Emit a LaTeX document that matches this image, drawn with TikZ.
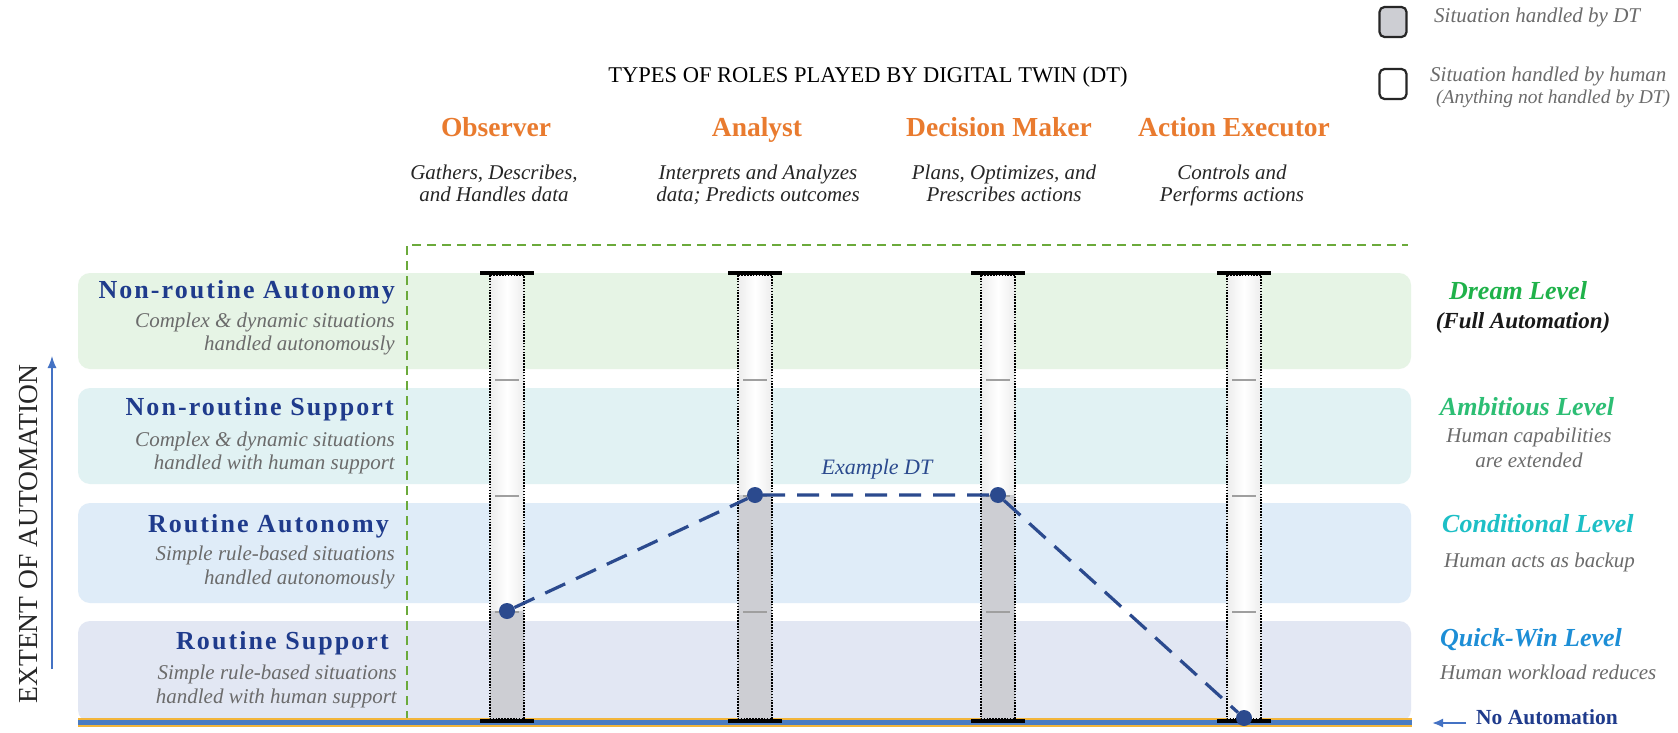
\documentclass[tikz,border=0pt]{standalone}
\usepackage{fontspec}
\setmainfont{Liberation Serif}
\newfontfamily\hdfont{Liberation Serif}[LetterSpace=8]
\usetikzlibrary{arrows.meta}
\definecolor{orangeH}{HTML}{E97B2F}
\definecolor{navy}{HTML}{1F3B8C}
\definecolor{subgray}{HTML}{6B6B6B}
\definecolor{bandA}{HTML}{E6F4E5}
\definecolor{bandB}{HTML}{E1F2F3}
\definecolor{bandC}{HTML}{DFECF8}
\definecolor{bandD}{HTML}{E2E7F3}
\definecolor{dreamG}{HTML}{1FB24A}
\definecolor{ambG}{HTML}{2DBE74}
\definecolor{condC}{HTML}{1DBFC6}
\definecolor{quickB}{HTML}{1D8ED6}
\definecolor{greenD}{HTML}{6BAA3B}
\definecolor{lineB}{HTML}{4A7CC2}
\definecolor{lineY}{HTML}{F2B53A}
\definecolor{dtgray}{HTML}{CDCED3}
\definecolor{exB}{HTML}{2B4A8E}
\definecolor{arrB}{HTML}{4472C4}
\tikzset{
  txt/.style={inner sep=0pt, anchor=mid},
  hdr/.style={txt, font=\bfseries\fontsize{27.5}{30}\selectfont, text=orangeH},
  desc/.style={txt, font=\itshape\fontsize{21}{24}\selectfont, text=black!85},
  lvlhd/.style={txt, anchor=mid east, font=\hdfont\bfseries\fontsize{26}{28}\selectfont, text=navy},
  lvlsub/.style={txt, anchor=mid east, font=\itshape\fontsize{21}{24}\selectfont, text=subgray},
  rlvl/.style={txt, font=\bfseries\itshape\fontsize{26}{30}\selectfont},
  rsub/.style={txt, font=\itshape\fontsize{21}{24}\selectfont, text=subgray},
  band/.style={rounded corners=12pt},
  dotedge/.style={black, line width=1.8pt, dash pattern=on 1.6pt off 1.3pt},
  capline/.style={black, line width=3.5pt},
  tickline/.style={gray!75, line width=1.3pt},
  dtdot/.style={circle, fill=exB, inner sep=0pt, minimum size=16pt},
  exline/.style={exB, line width=3.2pt, dash pattern=on 22pt off 12pt},
  legsq/.style={draw=black!85, line width=2.2pt, rounded corners=5pt, minimum width=27pt, minimum height=30pt, inner sep=0pt},
  legtxt/.style={txt, anchor=mid west, font=\itshape\fontsize{21}{24}\selectfont, text=subgray}
}
\newcommand\dtcolumn[2]{%
  \shade[left color=black!7, right color=black!7, middle color=white] (#1-17,275) rectangle (#1+17,719);
  \fill[dtgray] (#1-17,#2) rectangle (#1+17,719);
  \foreach \t in {380,496,612} \draw[tickline] (#1-12,\t) -- (#1+12,\t);
  \draw[dotedge] (#1-17,275) rectangle (#1+17,719);
  \draw[capline] (#1-27,273) -- (#1+27,273);
  \draw[capline] (#1-27,721) -- (#1+27,721);
}
\begin{document}
\begin{tikzpicture}[x=1pt, y=-1pt]
\useasboundingbox (0,0) rectangle (1678,733);
\fill[white] (0,0) rectangle (1678,733);

% legend
\node[legsq, fill=dtgray] (lg1) at (1393,22) {};
\node[legsq, fill=white] (lg2) at (1393,84) {};
\node[legtxt] (lt1) at (1434,20) {Situation handled by DT};
\node[legtxt] (lt2) at (1430,79) {Situation handled by human};
\node[legtxt, font=\itshape\fontsize{19.5}{22}\selectfont] (lt3) at (1436,101) {(Anything not handled by DT)};

% title
\node[txt, font=\fontsize{22.5}{26}\selectfont] (title) at (868,80) {TYPES OF ROLES PLAYED BY DIGITAL TWIN (DT)};

% column headers
\node[hdr] (h1) at (496,134) {Observer};
\node[hdr] (h2) at (757,134) {Analyst};
\node[hdr] (h3) at (999,134) {Decision Maker};
\node[hdr] (h4) at (1234,134) {Action Executor};
\node[desc] (s1a) at (494,177) {Gathers, Describes,};
\node[desc] (s1b) at (494,199) {and Handles data};
\node[desc] (s2a) at (758,177) {Interprets and Analyzes};
\node[desc] (s2b) at (758,199) {data; Predicts outcomes};
\node[desc] (s3a) at (1004,177) {Plans, Optimizes, and};
\node[desc] (s3b) at (1004,199) {Prescribes actions};
\node[desc] (s4a) at (1232,177) {Controls and};
\node[desc] (s4b) at (1232,199) {Performs actions};

% bands
\fill[band, bandA] (78,273) rectangle (1411,369);
\fill[band, bandB] (78,388) rectangle (1411,484);
\fill[band, bandC] (78,503) rectangle (1411,603);
\fill[band, bandD] (78,621) rectangle (1411,722);

% green dashed frame
\draw[greenD, line width=1.8pt, dash pattern=on 9pt off 6pt] (407,720) -- (407,245) -- (1408,245);

% bottom line
\draw[lineY, line width=9pt] (78,722) -- (1412,722);
\draw[lineB, line width=5pt] (78,722) -- (1412,722);

% columns
\dtcolumn{507}{611}
\dtcolumn{755}{495}
\dtcolumn{998}{495}
\dtcolumn{1244}{719}

% example DT path
\node[dtdot] (d1) at (507,611) {};
\node[dtdot] (d2) at (755,495) {};
\node[dtdot] (d3) at (998,495) {};
\node[dtdot] (d4) at (1244,718) {};
\draw[exline] (d1) -- (d2) -- (d3) -- (d4);
\node[txt, font=\itshape\fontsize{22}{26}\selectfont, text=exB] (ex) at (877,472) {Example DT};

% left labels
\node[lvlhd] (l1) at (395,296) {Non-routine Autonomy};
\node[lvlsub] (l1a) at (395,325) {Complex \& dynamic situations};
\node[lvlsub] (l1b) at (395,348) {handled autonomously};
\node[lvlhd] (l2) at (394,413) {Non-routine Support};
\node[lvlsub] (l2a) at (395,444) {Complex \& dynamic situations};
\node[lvlsub] (l2b) at (395,467) {handled with human support};
\node[lvlhd] (l3) at (389,530) {Routine Autonomy};
\node[lvlsub] (l3a) at (395,558) {Simple rule-based situations};
\node[lvlsub] (l3b) at (395,582) {handled autonomously};
\node[lvlhd] (l4) at (389,647) {Routine Support};
\node[lvlsub] (l4a) at (397,677) {Simple rule-based situations};
\node[lvlsub] (l4b) at (397,701) {handled with human support};

% axis
\coordinate (ax1) at (52,669);
\coordinate (ax2) at (52,356);
\draw[arrB, line width=1.3pt, -{Latex[length=12pt,width=9pt]}] (ax1) -- (ax2);
\node[txt, anchor=center, rotate=90, font=\fontsize{27.5}{30}\selectfont, text=black!85] (axl) at (29,534) {EXTENT OF AUTOMATION};

% right labels
\node[rlvl, text=dreamG] (r1) at (1518,297) {Dream Level};
\node[rlvl, text=black!90, font=\bfseries\itshape\fontsize{23}{26}\selectfont] (r1a) at (1523,326) {(Full Automation)};
\node[rlvl, text=ambG] (r2) at (1527,413) {Ambitious Level};
\node[rsub] (r2a) at (1529,440) {Human capabilities};
\node[rsub] (r2b) at (1529,465) {are extended};
\node[rlvl, text=condC, anchor=mid west] (r3) at (1442,530) {Conditional Level};
\node[rsub, anchor=mid west] (r3a) at (1444,565) {Human acts as backup};
\node[rlvl, text=quickB, anchor=mid west] (r4) at (1440,644) {Quick-Win Level};
\node[rsub, anchor=mid west] (r4a) at (1440,677) {Human workload reduces};

% no automation
\coordinate (na1) at (1466,723);
\coordinate (na2) at (1432,723);
\draw[arrB, line width=2pt, -{Latex[length=11pt,width=9pt]}] (na1) -- (na2);
\node[txt, anchor=mid west, font=\bfseries\fontsize{21.5}{24}\selectfont, text=navy] (nat) at (1476,722) {No Automation};
\end{tikzpicture}
\end{document}
